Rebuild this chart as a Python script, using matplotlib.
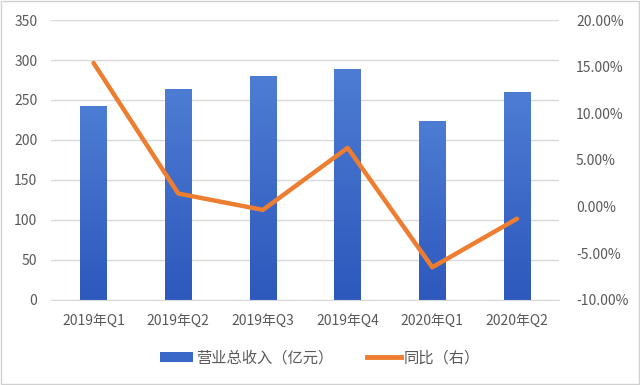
import matplotlib
matplotlib.use("Agg")
import matplotlib.pyplot as plt
import numpy as np
from matplotlib.patches import Patch
from matplotlib.lines import Line2D
from matplotlib.colors import LinearSegmentedColormap
from matplotlib.ticker import FuncFormatter

plt.rcParams['font.family'] = ['Noto Sans CJK SC', 'DejaVu Sans']

categories = ['2019年Q1', '2019年Q2', '2019年Q3', '2019年Q4', '2020年Q1', '2020年Q2']
revenue = [242, 264, 280, 289, 224, 260]
yoy = [15.4, 1.4, -0.35, 6.3, -6.5, -1.3]

fig = plt.figure(figsize=(6.4, 3.85), dpi=100)
ax = fig.add_axes([0.08, 0.221, 0.794, 0.727])
ax2 = ax.twinx()

x = np.arange(len(categories))
width = 0.31
bars = ax.bar(x, revenue, width=width, color='#3a68c8', zorder=2)
cmap = LinearSegmentedColormap.from_list('g', ['#2d58bd', '#4d7dd3'])
grad = np.linspace(0, 1, 256).reshape(-1, 1)
for b in bars:
    x0, y0 = b.get_x(), b.get_y()
    w, h = b.get_width(), b.get_height()
    im = ax.imshow(grad, extent=[x0, x0 + w, y0, y0 + h], origin='lower',
                   cmap=cmap, aspect='auto', zorder=2.5)
    im.set_clip_path(b)
ax.set_xlim(-0.5, len(categories) - 0.5)
ax.set_ylim(0, 350)
ax.set_yticks(range(0, 351, 50))
ax.grid(axis='y', color='#d9d9d9', linewidth=1, zorder=0)
ax.set_axisbelow(True)
ax.set_xticks(x)
ax.set_xticklabels(categories)

ax2.plot(x, yoy, color='#ed7d31', linewidth=3.2, solid_capstyle='round', zorder=3)
ax2.set_ylim(-10, 20)
ax2.set_yticks(range(-10, 21, 5))
ax2.yaxis.set_major_formatter(FuncFormatter(lambda v, p: f'{v:.2f}%'))

for a in (ax, ax2):
    for s in a.spines.values():
        s.set_visible(False)
    a.tick_params(length=0, colors='#595959', labelsize=10)
ax.spines['bottom'].set_visible(True)
ax.spines['bottom'].set_color('#d9d9d9')
ax.tick_params(axis='y', pad=10)
ax.tick_params(axis='x', pad=10)
ax2.tick_params(axis='y', pad=12)

handles = [Patch(facecolor='#3a68c8', label='营业总收入（亿元）'),
           Line2D([0], [0], color='#ed7d31', linewidth=3.5, label='同比（右）')]
fig.legend(handles=handles, loc='center', bbox_to_anchor=(0.5, 0.07), ncol=2,
           frameon=False, fontsize=11, labelcolor='#595959', handlelength=2.2,
           handleheight=0.6, columnspacing=2.2, handletextpad=0.2)

fig.patches.append(plt.Rectangle((0.002, 0.003), 0.996, 0.994, transform=fig.transFigure,
                                 fill=False, edgecolor='#d0d0d0', linewidth=1))
fig.savefig('out.png', dpi=100)
